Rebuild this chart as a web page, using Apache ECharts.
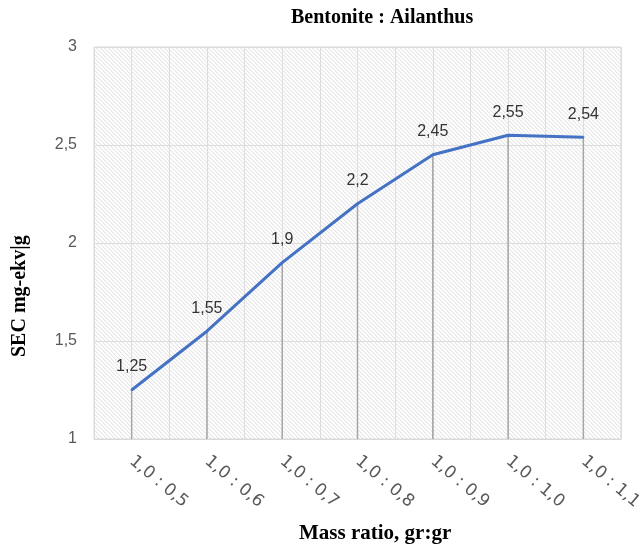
<!DOCTYPE html>
<html>
<head>
<meta charset="utf-8">
<style>
  html, body { margin: 0; padding: 0; background: #fff; }
  #chart { width: 641px; height: 548px; }
</style>
<script src="https://cdn.jsdelivr.net/npm/echarts@6/dist/echarts.min.js"></script>
</head>
<body>
<div id="chart"></div>
<script>
// Mass ratio categories and measured sorption capacity
const ratios = ['1,0 : 0,5', '1,0 : 0,6', '1,0 : 0,7', '1,0 : 0,8', '1,0 : 0,9', '1,0 : 1,0', '1,0 : 1,1'];
const secValues = [1.25, 1.55, 1.9, 2.2, 2.45, 2.55, 2.54];
const valueLabels = ['1,25', '1,55', '1,9', '2,2', '2,45', '2,55', '2,54'];

const titleText = 'Bentonite : Ailanthus';
const xName = 'Mass ratio, gr:gr';
const yName = 'SEC mg-ekv|g';

// Diagonal hatch tile for the plot background
function hatchTile() {
  const size = 4;
  const c = document.createElement('canvas');
  c.width = size; c.height = size;
  const ctx = c.getContext('2d');
  const img = ctx.createImageData(size, size);
  for (let y = 0; y < size; y++) {
    for (let x = 0; x < size; x++) {
      const k = ((x - y) % size + size) % size;
      const v = k === 0 ? 230 : (k === 1 ? 245 : 255);
      const i = (y * size + x) * 4;
      img.data[i] = v; img.data[i + 1] = v; img.data[i + 2] = v; img.data[i + 3] = 255;
    }
  }
  ctx.putImageData(img, 0, 0);
  return c;
}

const chart = echarts.init(document.getElementById('chart'), null, { renderer: 'canvas' });

const GRID = { left: 94, right: 20, top: 47, bottom: 109 };

chart.setOption({
  animation: false,
  backgroundColor: '#ffffff',
  grid: Object.assign({
    show: true,
    containLabel: false,
    outerBoundsMode: 'none',
    backgroundColor: { image: hatchTile(), repeat: 'repeat' },
    borderColor: '#d9d9d9',
    borderWidth: 1
  }, GRID),
  xAxis: [
    {
      type: 'category',
      data: ratios,
      boundaryGap: true,
      axisLine: { show: true, lineStyle: { color: '#d9d9d9', width: 1 } },
      axisTick: { show: false },
      splitLine: { show: false },
      axisLabel: {
        rotate: -40,
        margin: 20,
        interval: 0,
        color: '#595959',
        fontFamily: 'DejaVu Sans',
        fontSize: 17
      }
    },
    {
      // half-category grid lines
      type: 'value',
      position: 'bottom',
      min: 0,
      max: 14,
      interval: 1,
      show: true,
      axisLine: { show: false },
      axisTick: { show: false },
      axisLabel: { show: false },
      splitLine: { show: true, lineStyle: { color: '#dddddd', width: 1 } }
    }
  ],
  yAxis: {
    type: 'value',
    min: 1,
    max: 3,
    interval: 0.5,
    axisLine: { show: false },
    axisTick: { show: false },
    splitLine: { show: true, lineStyle: { color: '#dddddd', width: 1 } },
    axisLabel: {
      margin: 17,
      color: '#595959',
      fontFamily: 'Liberation Sans',
      fontSize: 16,
      formatter: v => String(v).replace('.', ',')
    }
  },
  graphic: [
    {
      type: 'text',
      left: 291, top: 8,
      style: { text: titleText, font: 'bold 20px "Liberation Serif"', fill: '#000' }
    },
    {
      type: 'text',
      left: 299, top: 523,
      style: { text: xName, font: 'bold 21px "Liberation Serif"', fill: '#000' }
    },
    {
      type: 'text',
      x: 10, y: 357,
      rotation: Math.PI / 2,
      style: { text: yName, font: 'bold 20px "Liberation Serif"', fill: '#000', verticalAlign: 'top' }
    }
  ],
  series: [
    {
      // drop lines from each point to the axis floor
      type: 'custom',
      xAxisIndex: 0,
      data: secValues.map((v, i) => [i, v]),
      renderItem: (params, api) => {
        const top = api.coord([api.value(0), api.value(1)]);
        const bottom = api.coord([api.value(0), 1]);
        return {
          type: 'line',
          shape: { x1: top[0], y1: top[1], x2: bottom[0], y2: bottom[1] },
          style: { stroke: '#a6a6a6', lineWidth: 1.5 }
        };
      },
      z: 2
    },
    {
      type: 'line',
      xAxisIndex: 0,
      data: secValues,
      symbol: 'circle',
      symbolSize: 2,
      showSymbol: true,
      showAllSymbol: true,
      itemStyle: { color: '#4472c4' },
      lineStyle: { color: '#4472c4', width: 3 },
      label: {
        show: true,
        position: 'top',
        distance: 14,
        color: '#333333',
        fontFamily: 'Liberation Sans',
        fontSize: 16,
        formatter: p => valueLabels[p.dataIndex]
      },
      labelLayout: { hideOverlap: false },
      z: 3
    }
  ]
});
</script>
</body>
</html>
